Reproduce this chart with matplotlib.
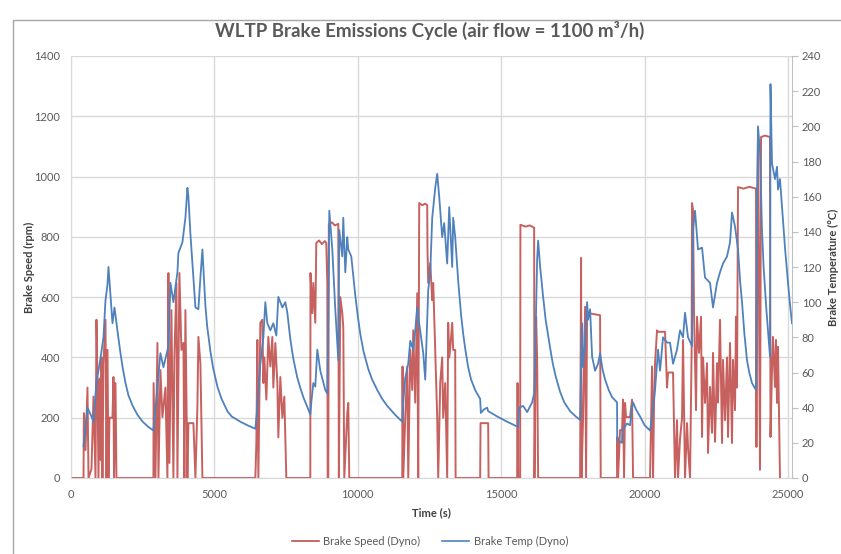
"""
WLTP brake emissions cycle - brake speed and brake temperature vs time
(dyno run, air flow = 1100 m3/h). Values read off the reference chart.
"""

import matplotlib
matplotlib.use("Agg")
import matplotlib.pyplot as plt
from matplotlib.patches import Rectangle
from matplotlib.lines import Line2D

FONT = ["Lato", "DejaVu Sans"]
GREY_TXT = "#595959"
RED = "#C0504D"
BLUE = "#4F81BD"

# brake speed (rpm) - time (s) / value pairs as parallel lists
speed_time = [
    0, 436, 450, 505, 575, 610, 714, 784, 854, 888, 923, 958, 1000, 1030, 1063, 1097, 1132,
    1202, 1237, 1272, 1307, 1341, 1446, 1481, 1500, 1551, 1585,
    2874, 2880, 2944, 3014, 3049, 3118, 3188, 3292, 3362, 3397, 3432, 3501, 3571, 3606,
    3676, 3711, 3780, 3850, 3920, 3954, 3989, 4059, 4094, 4268, 4338, 4407, 4442, 4512, 4582,
    6428, 6463, 6498, 6533, 6602, 6672, 6707, 6742, 6811, 6881, 6951, 7020, 7055, 7125,
    7195, 7229, 7299, 7369, 7438, 7508,
    8344, 8350, 8414, 8449, 8518, 8553, 8650, 8750, 8850, 8900, 8937, 8950, 8971, 8990,
    9100, 9200, 9320, 9340, 9390, 9459, 9494, 9529, 9633, 9668, 9703,
    11550, 11560, 11585, 11655, 11724, 11759, 11829, 11898, 11933, 12003, 12073, 12107,
    12142, 12250, 12350, 12421, 12430, 12456, 12526, 12595, 12630, 12700, 12769, 12804,
    12874, 12943, 12978, 13048, 13117, 13152, 13187, 13222, 13292, 13326, 13396, 13410,
    14267, 14280, 14546, 14560,
    15556, 15570, 15591, 15661, 15670, 15850, 16000, 16149, 16160, 16218, 16253, 16288,
    17751, 17786, 17800, 17856, 17926, 17960, 17995, 18030, 18448, 18470,
    19040, 19050, 19075, 19145, 19215, 19249, 19284, 19319, 19354, 19493, 19563, 19598,
    20190, 20260, 20295, 20330, 20364, 20434, 20469, 20713, 20783, 20818, 20887, 20992,
    21061, 21131, 21166, 21236, 21306, 21340, 21410, 21480, 21515, 21585, 21640, 21654,
    21689, 21724, 21794, 21829, 21898, 21968, 22003, 22038, 22107, 22177, 22212, 22282,
    22351, 22386, 22456, 22525, 22560, 22630, 22700, 22735, 22804, 22874, 22909, 22979,
    23048, 23083, 23153, 23188, 23223, 23258, 23450, 23650, 23885, 23900, 23920, 23955,
    23990, 24024, 24060, 24200, 24373, 24390, 24443, 24477, 24547, 24582, 24617, 24652,
    24690, 24721,
]
speed_rpm = [
    0, 0, 215, 93, 300, 0, 30, 270, 0, 525, 315, 0, 330, 60, 400, 0, 380,
    525, 0, 425, 0, 200, 200, 335, 0, 315, 0,
    0, 315, 0, 448, 0, 358, 202, 300, 0, 680, 50, 557, 0, 400,
    647, 0, 680, 425, 448, 0, 557, 0, 182, 182, 0, 235, 468, 380, 0,
    0, 115, 458, 0, 515, 525, 315, 400, 260, 468, 370, 468, 300, 448,
    315, 135, 335, 200, 270, 0,
    0, 680, 547, 647, 515, 780, 788, 776, 786, 780, 647, 0, 0, 843,
    848, 838, 843, 0, 600, 547, 500, 0, 215, 249, 0,
    0, 370, 0, 200, 370, 0, 425, 292, 490, 250, 613, 0,
    912, 905, 910, 905, 757, 647, 713, 590, 647, 425, 202, 0,
    315, 400, 200, 315, 0, 515, 400, 430, 515, 425, 425, 0,
    0, 182, 182, 0,
    0, 315, 0, 0, 840, 834, 838, 830, 0, 535, 400, 0,
    0, 730, 0, 200, 568, 0, 557, 547, 540, 0,
    0, 136, 0, 159, 159, 260, 0, 249, 202, 202, 260, 0,
    0, 370, 0, 250, 380, 490, 485, 485, 300, 350, 350, 350,
    0, 192, 0, 130, 200, 458, 0, 182, 100, 0, 425, 912,
    890, 547, 225, 535, 415, 535, 136, 400, 249, 381, 83, 302,
    150, 415, 120, 381, 250, 525, 116, 392, 192, 400, 136, 448,
    116, 392, 225, 535, 300, 965, 960, 966, 960, 103, 713, 1155,
    600, 27, 1131, 1136, 1131, 136, 358, 468, 302, 458, 249, 435,
    200, 0,
]

# brake temperature (deg C)
temp_time = [
    436, 575, 714, 784, 888, 958, 1063, 1132, 1202, 1272, 1307, 1341, 1446, 1516, 1585,
    1650, 1725, 1800, 1900, 2003, 2150, 2317, 2500, 2700, 2874,
    2944, 3118, 3223, 3397, 3467, 3571, 3711, 3745, 3885, 3989, 4059, 4094, 4163, 4338,
    4442, 4512, 4582, 4686, 4750, 4861, 4950, 5104, 5250, 5453, 5600, 5906, 6150, 6428,
    6498, 6602, 6707, 6776, 6846, 6951, 7055, 7160, 7229, 7369, 7473, 7543, 7647, 7750,
    7891, 8000, 8100, 8250, 8344,
    8379, 8449, 8518, 8588, 8693, 8867, 8937, 8971, 9006, 9111, 9215, 9320, 9355, 9459,
    9494, 9564, 9633, 9668, 9773, 9912, 10000, 10086, 10200, 10365, 10500, 10679, 10850,
    11027, 11300, 11550,
    11585, 11655, 11759, 11829, 11933, 12003, 12073, 12107, 12282, 12351, 12456, 12526,
    12595, 12700, 12769, 12839, 12943, 13013, 13117, 13187, 13292, 13326, 13396, 13501,
    13600, 13675, 13750, 13849, 13950, 14093, 14267, 14290, 14400, 14511, 14546, 14860,
    15208, 15591,
    15626, 15765, 15905, 16079, 16149, 16184, 16253, 16288, 16358, 16462, 16550, 16706,
    16800, 16897, 17054, 17200, 17403, 17600, 17751,
    17786, 17821, 17856, 17926, 17995, 18030, 18100, 18170, 18274, 18379, 18448, 18530,
    18622, 18750, 18866, 19040, 19045, 19215, 19220, 19389, 19493, 19563, 19598, 19700,
    19842, 20000, 20190,
    20260, 20364, 20469, 20539, 20643, 20783, 20887, 20992, 21131, 21236, 21340, 21410,
    21515, 21654, 21689, 21759, 21863, 22003, 22107, 22282, 22386, 22525, 22630, 22735,
    22874, 22979, 23048, 23153, 23258, 23330, 23397, 23480, 23571, 23650, 23746, 23885,
    23920, 23955, 24024, 24094, 24150, 24250, 24373, 24390, 24443, 24547, 24617, 24652,
    24721, 24826, 24900, 24965, 25050, 25139,
]
temp_c = [
    18, 40, 35, 32, 55, 61, 72, 80, 101, 110, 120, 112, 88, 97, 88,
    80, 71, 63, 54, 47, 41, 36, 32, 29, 27,
    39, 71, 63, 75, 111, 100, 117, 128, 134, 148, 165, 160, 139, 97,
    96, 114, 130, 98, 86, 72, 63, 52, 45, 38, 35, 32, 30, 28,
    40, 65, 80, 100, 88, 84, 88, 81, 103, 97, 100, 94, 79, 68,
    57, 51, 46, 40, 36,
    43, 54, 52, 73, 61, 50, 48, 92, 152, 130, 96, 67, 141, 126,
    148, 117, 137, 130, 126, 104, 92, 82, 72, 62, 56, 50, 45,
    41, 36, 32,
    43, 57, 65, 78, 73, 84, 97, 92, 71, 56, 107, 117,
    148, 165, 173, 160, 137, 145, 122, 154, 120, 148, 137, 112,
    93, 82, 73, 63, 56, 50, 45, 37, 39, 40, 38, 35,
    32, 29,
    40, 41, 37.5, 43, 48, 70, 124, 135, 120, 103, 90, 74,
    65, 58, 49, 43, 38, 35, 33,
    60, 88, 63, 77, 100, 90, 96, 69, 61, 65, 71, 62,
    56, 50, 46, 43, 22, 20, 27, 31, 30, 40, 43, 39,
    35, 30, 27,
    35, 50, 73, 61, 80, 77, 77, 65, 73, 84, 80, 94,
    80, 75, 141, 152, 130, 131, 114, 111, 97, 111, 117, 122,
    126, 134, 151, 143, 130, 112, 100, 82, 67, 60, 54, 50,
    152, 200, 185, 141, 120, 95, 69, 224, 179, 170, 177, 164,
    170, 147, 130, 118, 102, 88,
]

x_ticks = [0, 5000, 10000, 15000, 20000, 25000]
speed_ticks = [0, 200, 400, 600, 800, 1000, 1200, 1400]
temp_ticks = [0, 20, 40, 60, 80, 100, 120, 140, 160, 180, 200, 220, 240]


def main():
    fig = plt.figure(figsize=(8.41, 5.54), dpi=100)
    fig.patch.set_facecolor("white")

    # chart area frame
    fig.patches.append(Rectangle((13 / 841, -0.05), 1.0, 1 - 20 / 554 + 0.05,
                                 transform=fig.transFigure, fill=False,
                                 edgecolor="#a6a6a6", linewidth=1.0))

    ax = fig.add_axes([71 / 841, 1 - 478 / 554, (792 - 71) / 841, (478 - 56) / 554])
    ax2 = ax.twinx()

    ax.plot(speed_time, speed_rpm, color=RED, linewidth=1.4, alpha=0.9)
    ax2.plot(temp_time, temp_c, color=BLUE, linewidth=1.3)

    ax.set_xlim(0, 25140)
    ax.set_ylim(0, 1400)
    ax2.set_ylim(0, 240)
    ax.set_xticks(x_ticks)
    ax.set_yticks(speed_ticks)
    ax2.set_yticks(temp_ticks)

    ax.grid(True, color="#d9d9d9", linewidth=1.0)
    ax.set_axisbelow(True)

    for a in (ax, ax2):
        for side in ("top", "left", "right"):
            a.spines[side].set_visible(False)
        a.spines["bottom"].set_color("#d9d9d9")
    ax2.spines["bottom"].set_visible(False)
    ax2.spines["right"].set_visible(True)
    ax2.spines["right"].set_color("#bfbfbf")
    ax.spines["left"].set_visible(True)
    ax.spines["left"].set_color("#d9d9d9")

    ax.tick_params(axis="both", length=0, labelsize=8, labelcolor=GREY_TXT, pad=8)
    ax2.tick_params(axis="y", length=4, color="#bfbfbf", labelsize=8,
                    labelcolor=GREY_TXT, pad=3)
    for lab in ax.get_xticklabels() + ax.get_yticklabels() + ax2.get_yticklabels():
        lab.set_family(FONT)

    ax.set_xlabel("Time (s)", fontsize=8, fontweight="bold", color="#404040", family=FONT)
    ax.set_ylabel("Brake Speed (rpm)", fontsize=8, fontweight="bold", color="#404040",
                  family=FONT)
    ax2.set_ylabel("Brake Temperature (°C)", fontsize=8, fontweight="bold",
                   color="#404040", family=FONT)
    ax.xaxis.set_label_coords(0.5, -0.068)
    ax.yaxis.set_label_coords(-0.05, 0.5)
    ax2.yaxis.set_label_coords(1.05, 0.5)

    fig.text(430 / 841, 1 - 30 / 554, "WLTP Brake Emissions Cycle (air flow = 1100 m³/h)",
             ha="center", va="center", fontsize=13.5, fontweight="bold",
             color=GREY_TXT, family=FONT)

    handles = [Line2D([], [], color=RED, linewidth=1.2),
               Line2D([], [], color=BLUE, linewidth=1.2)]
    fig.legend(handles, ["Brake Speed (Dyno)", "Brake Temp (Dyno)"],
               loc="center", bbox_to_anchor=(430 / 841, 1 - 541 / 554), ncol=2,
               frameon=False, prop={"family": FONT, "size": 8}, labelcolor=GREY_TXT,
               handlelength=2.4, columnspacing=2.0, handletextpad=0.4)

    fig.savefig("out.png", dpi=100)


if __name__ == "__main__":
    main()
